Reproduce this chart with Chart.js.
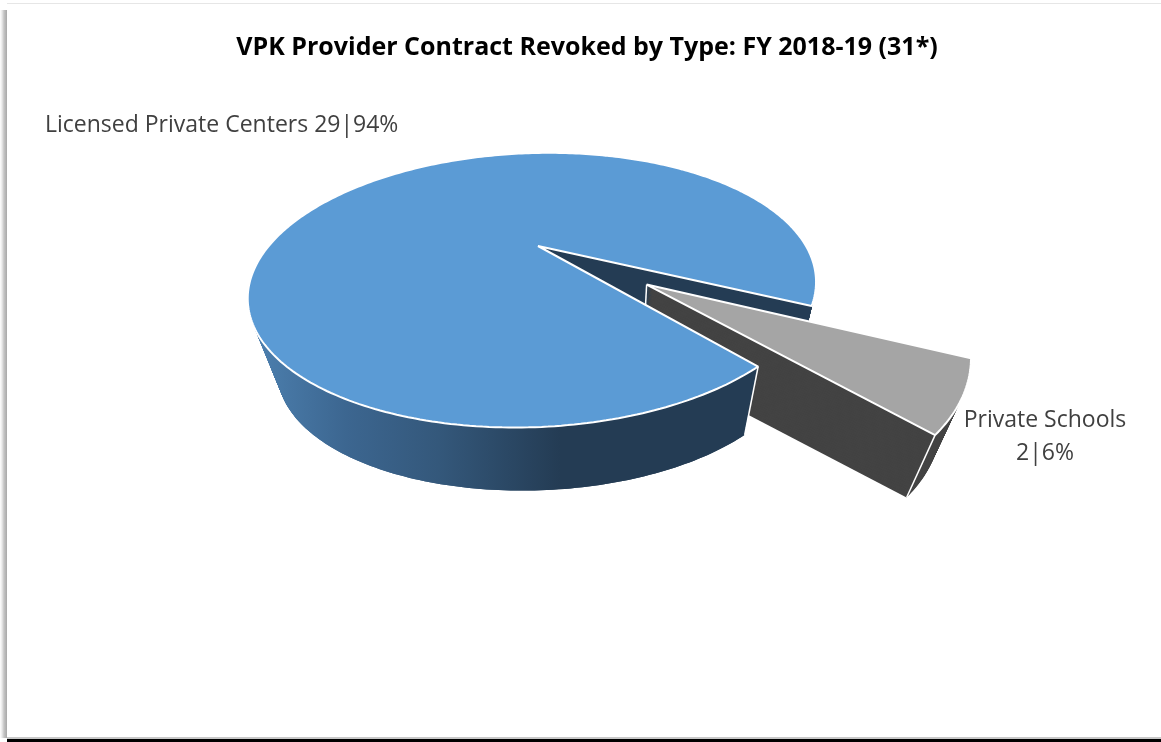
<!DOCTYPE html>
<html>
<head>
<meta charset="utf-8">
<script src="https://cdn.jsdelivr.net/npm/chart.js@4/dist/chart.umd.min.js"></script>
<style>
html, body { margin: 0; padding: 0; background: #fff; overflow: hidden; }
#page { position: relative; width: 1161px; height: 742px; overflow: hidden; }
#shadow { position: absolute; left: 0; top: 10px; width: 7px; height: 728px;
  background: linear-gradient(to right, #fff 0, #e8e8e8 2px, #c4c4c4 4px, #a8a8a8 7px); }
#topline { position: absolute; left: 7px; top: 3px; right: 0; height: 1px; background: #e6e6e6; }
#bottom { position: absolute; left: 7px; right: 0; top: 739px; height: 3px; background: #000; }
#bottomline { position: absolute; left: 7px; right: 0; top: 737px; height: 2px; background: #c8c8c8; }
canvas { position: absolute; left: 0; top: 0; }
</style>
</head>
<body>
<div id="page">
  <div id="shadow"></div><div id="topline"></div><div id="bottomline"></div><div id="bottom"></div>
  <canvas id="myChart" width="1161" height="737"></canvas>
</div>
<script>
var chartTitle = 'VPK Provider Contract Revoked by Type: FY 2018-19 (31*)';
var categories = ['Licensed Private Centers', 'Private Schools'];
var counts = [29, 2];
var percents = [94, 6];
var explode = [0, 0.478];
var topColors = ['#5b9bd5', '#a5a5a5'];

// perspective of the tilted pie, plane coords are in units of the radius
var AX = 538, AY = 246, KX = 269, KY = 123, PY = 0.321, PX = -0.018, SX = -2, SY = -6;
var VX = 600, VY = 1170, DEPTH = 0.085, LAYERS = 60;

function project(nx, ny, t) {
    var w = 1 - PY * ny - PX * nx;
    var x = AX + (KX * nx + SX * ny) / w;
    var y = AY + (KY * ny + SY * nx) / w;
    return [x + (VX - x) * DEPTH * t, y + (VY - y) * DEPTH * t];
}

// run draw() with the path calls of ctx sent through project()
function projected(ctx, arc, t, draw) {
    var proto = CanvasRenderingContext2D.prototype;
    function put(fn, x, y) {
        var m = ctx.getTransform();
        var p = project((m.a * x + m.c * y + m.e - arc.x) / arc.outerRadius,
                        (m.b * x + m.d * y + m.f - arc.y) / arc.outerRadius, t);
        ctx.setTransform(1, 0, 0, 1, 0, 0);
        fn.call(ctx, p[0], p[1]);
        ctx.setTransform(m);
    }
    ctx.moveTo = function (x, y) { put(proto.moveTo, x, y); };
    ctx.lineTo = function (x, y) { put(proto.lineTo, x, y); };
    ctx.arc = function (x, y, r, a0, a1, ccw) {
        var n = Math.max(2, Math.ceil(Math.abs(a1 - a0) * 60));
        for (var i = 0; i <= n; i++) {
            var a = a0 + (a1 - a0) * i / n;
            put(proto.lineTo, x + r * Math.cos(a), y + r * Math.sin(a));
        }
    };
    draw();
    delete ctx.moveTo; delete ctx.lineTo; delete ctx.arc;
}

function drawArc(ctx, arc, index, t, fill, border) {
    var base = arc.options;
    var mid = (arc.startAngle + arc.endAngle) / 2;
    var d = explode[index] * arc.outerRadius;
    arc.options = Object.assign(Object.create(base), {
        backgroundColor: fill,
        borderColor: '#fff',
        borderWidth: border
    });
    ctx.save();
    ctx.translate(Math.cos(mid) * d, Math.sin(mid) * d);
    projected(ctx, arc, t, function () { arc.draw(ctx); });
    ctx.restore();
    arc.options = base;
}

function drawWalls(ctx, arc, index, fill) {
    for (var i = LAYERS; i > 0; i--) {
        drawArc(ctx, arc, index, i / LAYERS, fill, 0);
    }
}

// white line down a wall corner
function drawEdge(ctx, arc, index, angle, radius) {
    var mid = (arc.startAngle + arc.endAngle) / 2;
    var nx = Math.cos(mid) * explode[index] + Math.cos(angle) * radius;
    var ny = Math.sin(mid) * explode[index] + Math.sin(angle) * radius;
    var a = project(nx, ny, 0), b = project(nx, ny, 1);
    ctx.save();
    ctx.strokeStyle = '#fff';
    ctx.lineWidth = 1.5;
    ctx.beginPath();
    ctx.moveTo(a[0], a[1]);
    ctx.lineTo(b[0], b[1]);
    ctx.stroke();
    ctx.restore();
}

var pie3d = {
    id: 'pie3d',
    beforeDatasetsDraw: function (chart) {
        var ctx = chart.ctx;
        var arcs = chart.getDatasetMeta(0).data;
        var blue = arcs[0], grey = arcs[1];

        var wall = ctx.createLinearGradient(255, 0, 560, 0);
        wall.addColorStop(0, '#4c7fae');
        wall.addColorStop(0.3, '#3c6690');
        wall.addColorStop(0.6, '#34587b');
        wall.addColorStop(1, '#243c54');

        drawWalls(ctx, blue, 0, wall);
        drawWalls(ctx, grey, 1, '#434343');
        drawEdge(ctx, grey, 1, grey.endAngle, 1);
        drawEdge(ctx, grey, 1, grey.endAngle, 0);
        drawArc(ctx, grey, 1, 0, topColors[1], 2);

        // front wall of the big slice sits in front of the dark wall
        var cut = project(Math.cos(blue.startAngle), Math.sin(blue.startAngle), 0);
        ctx.save();
        ctx.beginPath();
        ctx.rect(0, cut[1], cut[0], chart.height - cut[1]);
        ctx.clip();
        drawWalls(ctx, blue, 0, wall);
        ctx.restore();
        drawEdge(ctx, blue, 0, blue.startAngle, 1);
        drawArc(ctx, blue, 0, 0, topColors[0], 2);
        return false;
    },
    afterDraw: function (chart) {
        var ctx = chart.ctx;
        ctx.save();
        ctx.fillStyle = '#404040';
        ctx.font = '23px "Open Sans"';
        ctx.textBaseline = 'middle';
        ctx.textAlign = 'left';
        ctx.fillText(categories[0] + ' ' + counts[0] + '|' + percents[0] + '%', 45, 125);
        ctx.textAlign = 'center';
        ctx.fillText(categories[1], 1045, 420);
        ctx.fillText(counts[1] + '|' + percents[1] + '%', 1045, 453);
        ctx.restore();
    }
};

var myChart = new Chart(document.getElementById('myChart'), {
    type: 'pie',
    data: {
        labels: categories,
        datasets: [{
            data: counts,
            backgroundColor: topColors,
            borderWidth: 0
        }]
    },
    options: {
        responsive: false,
        animation: false,
        rotation: 141,
        layout: { padding: { left: 13 } },
        plugins: {
            legend: { display: false },
            tooltip: { enabled: false },
            title: {
                display: true,
                text: chartTitle,
                color: '#000',
                font: { family: '"Open Sans"', size: 25, weight: 'bold' },
                padding: { top: 33, bottom: 10 }
            }
        }
    },
    plugins: [pie3d]
});
</script>
</body>
</html>
